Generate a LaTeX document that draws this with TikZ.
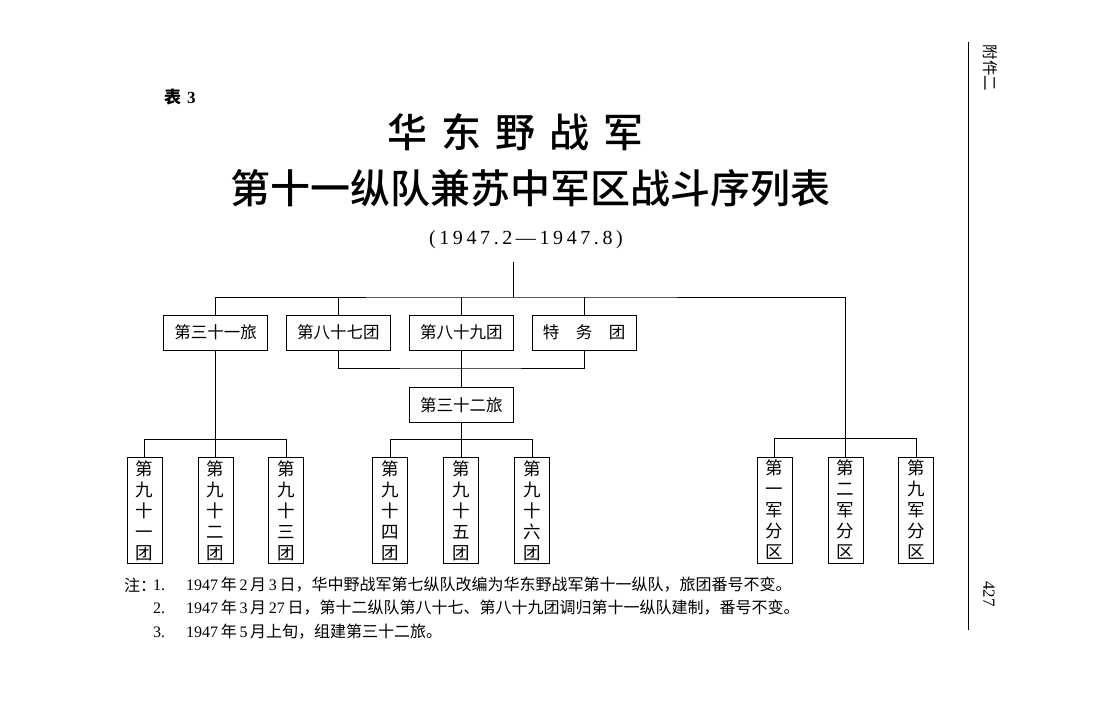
\documentclass[tikz,border=0pt]{standalone}
\usepackage{fontspec}
\setmainfont{Noto Sans CJK SC}
\newfontfamily\latin{Liberation Serif}
\newfontfamily\titlefont{Noto Sans CJK SC Medium}
\usetikzlibrary{positioning}

\begin{document}
\begin{tikzpicture}[x=1pt, y=-1pt,
    unit/.style={rectangle, draw, line width=0.9pt, minimum width=104pt,
                 minimum height=35pt, inner sep=0pt,
                 font=\fontsize{16.5}{18}\selectfont},
    vunit/.style={rectangle, draw, line width=0.9pt, minimum width=35pt,
                  minimum height=106pt, inner sep=0pt, align=center,
                  font=\fontsize{17.5}{21}\selectfont},
    link/.style={line width=0.9pt},
    note/.style={anchor=west, inner sep=0pt, font=\fontsize{16}{16}\selectfont},
    node distance=18pt
]

\useasboundingbox[fill=white] (0,0) rectangle (1102,710);

% --- Headings ---
\node[anchor=west, inner sep=0pt, font=\bfseries\fontsize{17}{17}\selectfont] (tabno)
    at (164,97) {表\hspace{0.35em}{\latin\bfseries 3}};
\node[font=\titlefont\fontsize{40}{40}\selectfont] (title1) at (515,132)
    {华\hspace{0.35em}东\hspace{0.35em}野\hspace{0.35em}战\hspace{0.35em}军};
\node[font=\titlefont\fontsize{40}{40}\selectfont] (title2) at (530,188)
    {第十一纵队兼苏中军区战斗序列表};
\node[font=\latin\fontsize{20}{20}\selectfont\addfontfeature{LetterSpace=18}] (period)
    at (526,240) {(1947.2—1947.8)};

% --- Brigades and regiments, first row ---
\node[unit] (b31) at (215.5,332.5) {第三十一旅};
\node[unit, right=of b31] (r87) {第八十七团};
\node[unit, right=of r87] (r89) {第八十九团};
\node[unit, right=of r89] (rsp) {特\quad 务\quad 团};
\node[unit, below=37pt of r89] (b32) {第三十二旅};

% --- Regiments and military sub-districts, bottom row ---
\node[vunit, below=107pt of b31] (r92) {第\\九\\十\\二\\团};
\node[vunit, left=35pt of r92] (r91) {第\\九\\十\\一\\团};
\node[vunit, right=35pt of r92] (r93) {第\\九\\十\\三\\团};
\node[vunit, below=34pt of b32] (r95) {第\\九\\十\\五\\团};
\node[vunit, left=35pt of r95] (r94) {第\\九\\十\\四\\团};
\node[vunit, right=35pt of r95] (r96) {第\\九\\十\\六\\团};
\node[vunit] (md2) at (845.5,510) {第\\二\\军\\分\\区};
\node[vunit, left=35pt of md2] (md1) {第\\一\\军\\分\\区};
\node[vunit, right=35pt of md2] (md3) {第\\九\\军\\分\\区};

% --- Connectors ---
\coordinate (root) at (513,262);
\coordinate (bus) at (513,297);
\coordinate (join) at (460,368);
\draw[link] (root) -- (bus);
\draw[link] (b31.north) |- (bus) -| (md2.north);
\foreach \u in {r87, r89, rsp}
    \draw[link] (\u.north) -- (\u.north |- bus);
\draw[link] (r87.south) |- (join) -| (rsp.south);
\draw[link] (r89.south) -- (b32.north);
\draw[link] (b31.south) -- (r92.north);
\draw[link] (b32.south) -- (r95.north);
\foreach \l/\r in {r91/r93, r94/r96, md1/md3}
    \draw[link] (\l.north) -- ++(0,-18) -| (\r.north);

% --- Notes ---
\node[note] (notehead) at (124,585) {注：};
\node[note] (n1no) at (153,585) {\latin 1.};
\node[note] (n1) at (186,585)
    {{\latin 1947}\,年\,{\latin 2}\,月\,{\latin 3}\,日，华中野战军第七纵队改编为华东野战军第十一纵队，旅团番号不变。};
\node[note] (n2no) at (153,608) {\latin 2.};
\node[note] (n2) at (186,608)
    {{\latin 1947}\,年\,{\latin 3}\,月\,{\latin 27}\,日，第十二纵队第八十七、第八十九团调归第十一纵队建制，番号不变。};
\node[note] (n3no) at (153,632) {\latin 3.};
\node[note] (n3) at (186,632)
    {{\latin 1947}\,年\,{\latin 5}\,月上旬，组建第三十二旅。};

% --- Page margin ---
\coordinate (railtop) at (968,42);
\coordinate (railbot) at (968,630);
\draw[line width=1pt] (railtop) -- (railbot);
\node[rotate=-90, font=\fontsize{15.5}{15.5}\selectfont] (appx) at (990,68) {附件二};
\node[rotate=-90, font=\latin\fontsize{17}{17}\selectfont] (pageno) at (989,594) {427};

\end{tikzpicture}
\end{document}
